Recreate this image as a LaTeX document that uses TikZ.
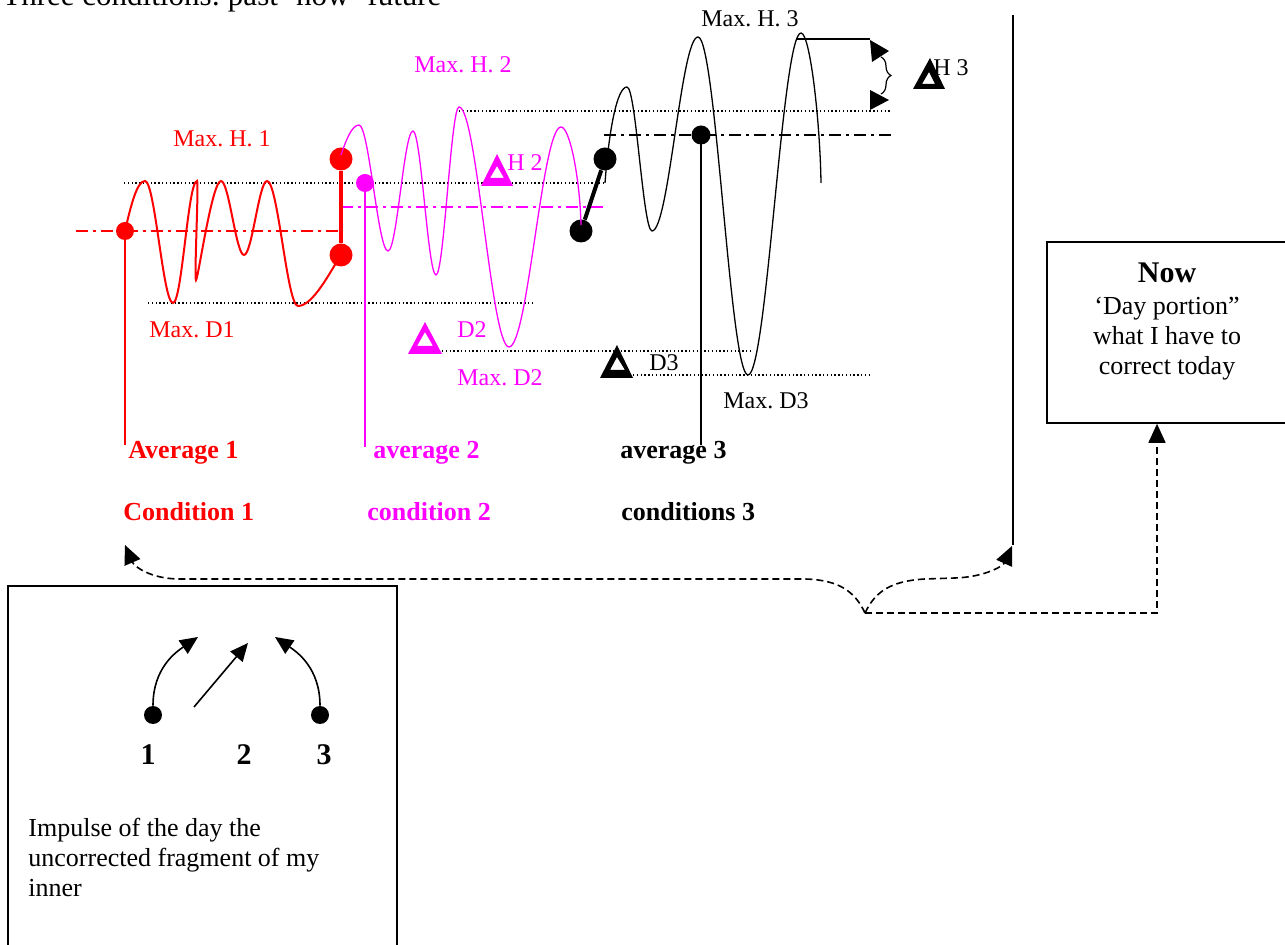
\documentclass[tikz,border=0pt]{standalone}
\usepackage{fontspec}
\setmainfont{Liberation Serif}
\usetikzlibrary{arrows.meta,decorations.pathreplacing}
\definecolor{mag}{RGB}{255,0,255}
\definecolor{rd}{RGB}{255,0,0}
\tikzset{
  lab/.style={inner sep=0, font=\fontsize{12}{14}\selectfont},
  blab/.style={inner sep=0, font=\fontsize{13}{15}\selectfont\bfseries},
  txt/.style={inner sep=0, font=\fontsize{13}{15}\selectfont},
  pt/.style={circle, fill, inner sep=0},
  dotl/.style={dash pattern=on 0.7pt off 1.2pt, line width=0.6pt},
  dd/.style={dash pattern=on 6pt off 2.5pt on 1.5pt off 2.5pt, line width=0.7pt},
  dsh/.style={dash pattern=on 3.5pt off 2pt, line width=0.8pt},
  tip/.style={-{Triangle[length=9.5pt,width=8.5pt]}},
  stip/.style={-{Triangle[length=9pt,width=8pt]}},
}
\begin{document}
\frenchspacing
\begin{tikzpicture}[x=0.5pt,y=-0.5pt]
\useasboundingbox (0,0) rectangle (1285,945);

% title (mostly cut off at the top)
\node[anchor=base west, inner sep=0, font=\fontsize{15.5}{18}\selectfont] (title) at (2,6) {Three conditions: past- now- future};

% dotted reference lines
\draw[dotl] (124,183) -- (605,183);
\draw[dotl] (148,303) -- (533,303);
\draw[dotl] (459,111) -- (892,111);
\draw[dotl] (442,351) -- (750,351);
\draw[dotl] (633,375) -- (870,375);

% dash-dot average lines
\draw[dd, rd] (76,231) -- (341,231);
\draw[dd, mag] (341,207) -- (603,207);
\draw[dd, black] (604,135) -- (893,135);

% dots
\node[pt, rd, minimum size=9pt] (r1) at (125,231) {};
\node[pt, rd, minimum size=11.5pt] (r2) at (341,159) {};
\node[pt, rd, minimum size=11.5pt] (r3) at (341,255) {};
\node[pt, mag, minimum size=9pt] (m1) at (365,183) {};
\node[pt, black, minimum size=11.5pt] (b1) at (581,231) {};
\node[pt, black, minimum size=11.5pt] (b2) at (605,159) {};
\node[pt, black, minimum size=9.5pt] (b3) at (701,135) {};

% red wave
\draw[rd, line width=1pt] (r1.center) .. controls (131,205) and (137,181) .. (145,181)
  .. controls (155,181) and (163,303) .. (173,303)
  .. controls (182,303) and (188,181) .. (197,181)
  .. controls (199,181) and (194,280) .. (196,280)
  .. controls (198,280) and (212,181) .. (221,181)
  .. controls (229,181) and (236,255) .. (244,255)
  .. controls (252,255) and (259,181) .. (267,181)
  .. controls (278,181) and (287,306) .. (298,306)
  .. controls (313,306) and (330,272) .. (r3.center);
\draw[rd, line width=2pt] (r2) -- (r3);

% magenta wave
\draw[mag, line width=0.65pt] (341,155) .. controls (346,140) and (352,125) .. (359,125)
  .. controls (369,125) and (378,251) .. (388,251)
  .. controls (397,251) and (404,131) .. (413,131)
  .. controls (421,131) and (428,275) .. (436,275)
  .. controls (444,275) and (451,107) .. (459,107)
  .. controls (477,107) and (491,347) .. (509,347)
  .. controls (528,347) and (542,127) .. (561,127)
  .. controls (570,127) and (580,180) .. (581,225);

% black wave
\draw[black, line width=0.65pt] (605,183) .. controls (609,130) and (617,87) .. (627,87)
  .. controls (636,87) and (643,231) .. (652,231)
  .. controls (669,231) and (681,37) .. (698,37)
  .. controls (716,37) and (730,375) .. (748,375)
  .. controls (767,375) and (782,33) .. (801,33)
  .. controls (810,33) and (820,120) .. (821,183);
\draw[black, line width=2pt] (b1) -- (b2);

% vertical average lines
\coordinate (a1) at (125,445);
\coordinate (a2) at (365,447);
\coordinate (a3) at (701,445);
\draw[rd, line width=0.7pt] (r1.center) -- (a1);
\draw[mag, line width=0.7pt] (m1.center) -- (a2);
\draw[black, line width=0.7pt] (b3.center) -- (a3);

% delta symbols
\fill[mag, even odd rule] (481,186) -- (513,186) -- (497,154) -- cycle (490,178) -- (504,178) -- (497,166) -- cycle;
\fill[mag, even odd rule] (408,354) -- (442,354) -- (425,322) -- cycle (417,346) -- (433,346) -- (425,332) -- cycle;
\fill[black, even odd rule] (600,378) -- (633,378) -- (617,345) -- cycle (610,370) -- (625,370) -- (617,357) -- cycle;
\fill[black, even odd rule] (913,89) -- (945,89) -- (930,58) -- cycle (922,84) -- (935,84) -- (929,72) -- cycle;

% H3 marker
\draw[line width=0.7pt] (797,39) -- (870,39);
\fill (870,40) -- (889,51) -- (872,62) -- cycle;
\fill (870,90) -- (889,100) -- (870,110) -- cycle;
\draw[decorate, decoration={brace, amplitude=5pt}, line width=0.6pt] (881,57) -- (881,94);

% wave labels
\node[lab, rd, anchor=base] (mh1) at (222,147) {Max. H. 1};
\node[lab, rd, anchor=base] (md1) at (192,338) {Max. D1};
\node[lab, mag, anchor=base] (mh2) at (463,73) {Max. H. 2};
\node[lab, mag, anchor=base west] (h2) at (507,171) {H 2};
\node[lab, mag, anchor=base west] (d2) at (457,338) {D2};
\node[lab, mag, anchor=base west] (md2) at (457,386) {Max. D2};
\node[lab, anchor=base] (mh3) at (750,27) {Max. H. 3};
\node[lab, anchor=base west] (h3) at (933,76) {H 3};
\node[lab, anchor=base west] (d3) at (649,371) {D3};
\node[lab, anchor=base west] (md3) at (723,409) {Max. D3};

% averages and conditions
\node[blab, rd, anchor=base west] (av1) at (128,459) {Average 1};
\node[blab, mag, anchor=base west] (av2) at (373,459) {average 2};
\node[blab, anchor=base west] (av3) at (620,459) {average 3};
\node[blab, rd, anchor=base west] (c1) at (123,521) {Condition 1};
\node[blab, mag, anchor=base west] (c2) at (367,521) {condition 2};
\node[blab, anchor=base west] (c3) at (621,521) {conditions 3};

% right vertical line
\coordinate (vt) at (1013,15);
\coordinate (vb) at (1013,545);
\draw[line width=0.9pt] (vt) -- (vb);

% Now box
\node[draw, line width=0.8pt, minimum width=126.5pt, minimum height=90.5pt, inner sep=0] (now) at (1173.5,332.5) {};
\node[anchor=base, inner sep=0, font=\fontsize{15}{18}\selectfont\bfseries] (nowt) at (1167,283) {Now};
\node[txt, anchor=base] (nowa) at (1167,315) {‘Day portion”};
\node[txt, anchor=base] (nowb) at (1167,345) {what I have to};
\node[txt, anchor=base] (nowc) at (1167,375) {correct today};

% dashed brace connector
\coordinate (P) at (865,613);
\coordinate (L) at (125,545);
\coordinate (R) at (1012,546);
\coordinate (q) at (1157,613);
\draw[dsh, tip] (P) .. controls (855,592) and (840,580) .. (805,579) -- (180,579) .. controls (150,579) and (134,566) .. (L);
\draw[dsh, tip] (P) .. controls (875,592) and (890,581) .. (925,579) -- (955,578) .. controls (985,577) and (1003,566) .. (R);
\draw[dsh, tip] (P) -- (q) -- (q |- now.south);

% impulse box
\node[draw, line width=1pt, minimum width=194.5pt, minimum height=190pt, inner sep=0] (imp) at (202.5,776) {};
\node[pt, minimum size=9pt] (n1) at (153,715) {};
\node[pt, minimum size=9pt] (n3) at (320,715) {};
\coordinate (s2) at (194,707);
\coordinate (t1) at (198,637);
\coordinate (t2) at (248,643);
\coordinate (t3) at (275,637);
\draw[line width=0.8pt, stip] (n1.north) .. controls (153,668) and (176,652) .. (t1);
\draw[line width=0.8pt, stip] (s2) -- (t2);
\draw[line width=0.8pt, stip] (n3.north) .. controls (320,668) and (297,652) .. (t3);
\node[anchor=base, inner sep=0, font=\fontsize{15}{18}\selectfont\bfseries] (k1) at (148,765) {1};
\node[anchor=base, inner sep=0, font=\fontsize{15}{18}\selectfont\bfseries] (k2) at (244,765) {2};
\node[anchor=base, inner sep=0, font=\fontsize{15}{18}\selectfont\bfseries] (k3) at (324,765) {3};
\node[txt, anchor=base west] (i1) at (28,836) {Impulse of the day the};
\node[txt, anchor=base west] (i2) at (28,866) {uncorrected fragment of my};
\node[txt, anchor=base west] (i3) at (28,896) {inner};
\end{tikzpicture}
\end{document}
